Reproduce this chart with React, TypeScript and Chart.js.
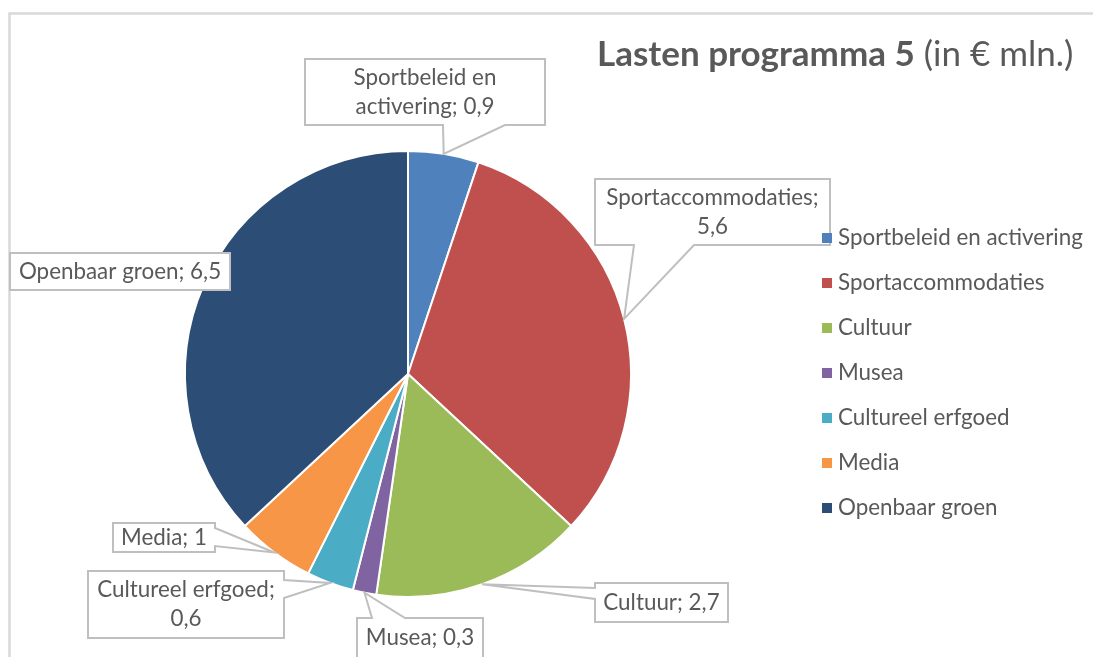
import React, { useEffect, useRef } from 'react';
import { Chart, registerables } from 'chart.js';

Chart.register(...registerables);

const categories = [
  'Sportbeleid en activering',
  'Sportaccommodaties',
  'Cultuur',
  'Musea',
  'Cultureel erfgoed',
  'Media',
  'Openbaar groen',
];
const values = [0.9, 5.6, 2.7, 0.3, 0.6, 1, 6.5];
const colors = ['#4F81BD', '#C0504D', '#9BBB59', '#8064A2', '#4BACC6', '#F79646', '#2C4D75'];
const titleBold = 'Lasten programma 5';
const titleNormal = ' (in € mln.)';

// callout layout (box position, wedge side, wedge base, words on first line)
const callouts = [
  { x: 305, y: 59, w: 240, h: 66, side: 'bottom', b1: 443, b2: 505, split: 2 },
  { x: 595, y: 179, w: 235, h: 66, side: 'bottom', b1: 634, b2: 694, split: 1 },
  { x: 595, y: 583, w: 133, h: 39, side: 'left', b1: 588, b2: 599, split: 0 },
  { x: 357, y: 618, w: 126, h: 40, side: 'top', b1: 372, b2: 405, split: 0 },
  { x: 88, y: 571, w: 196, h: 67, side: 'right', b1: 580, b2: 598, split: 2 },
  { x: 113, y: 523, w: 102, h: 29, side: 'right', b1: 528, b2: 546, split: 0 },
  { x: 10, y: 253, w: 220, h: 37, side: 'none', b1: 0, b2: 0, split: 0 },
];

const FONT = 'Lato, "Open Sans", sans-serif';
const TEXT_COLOR = '#595959';
const LABEL_SIZE = 22.4;
const TITLE_SIZE = 35;

const fmt = (v: number) => String(v).replace('.', ',');

const decorPlugin = {
  id: 'decor',
  beforeDraw(chart: any) {
    const ctx = chart.ctx;
    ctx.save();
    ctx.fillStyle = '#ffffff';
    ctx.fillRect(0, 0, chart.width, chart.height);
    ctx.strokeStyle = '#D9D9D9';
    ctx.lineWidth = 2.5;
    ctx.beginPath();
    ctx.moveTo(9.5, chart.height);
    ctx.lineTo(9.5, 13.5);
    ctx.lineTo(chart.width, 13.5);
    ctx.stroke();
    ctx.restore();
  },
  afterDraw(chart: any) {
    const ctx = chart.ctx;
    const meta = chart.getDatasetMeta(0);
    ctx.save();
    // callouts
    meta.data.forEach((arc: any, i: number) => {
      const c = callouts[i];
      const mid = (arc.startAngle + arc.endAngle) / 2;
      const ax = arc.x + Math.cos(mid) * arc.outerRadius;
      const ay = arc.y + Math.sin(mid) * arc.outerRadius;
      const { x, y, w, h } = c;
      ctx.beginPath();
      if (c.side === 'bottom') {
        ctx.moveTo(x, y);
        ctx.lineTo(x + w, y);
        ctx.lineTo(x + w, y + h);
        ctx.lineTo(c.b2, y + h);
        ctx.lineTo(ax, ay);
        ctx.lineTo(c.b1, y + h);
        ctx.lineTo(x, y + h);
      } else if (c.side === 'top') {
        ctx.moveTo(x, y);
        ctx.lineTo(c.b1, y);
        ctx.lineTo(ax, ay);
        ctx.lineTo(c.b2, y);
        ctx.lineTo(x + w, y);
        ctx.lineTo(x + w, y + h);
        ctx.lineTo(x, y + h);
      } else if (c.side === 'left') {
        ctx.moveTo(x, y);
        ctx.lineTo(x + w, y);
        ctx.lineTo(x + w, y + h);
        ctx.lineTo(x, y + h);
        ctx.lineTo(x, c.b2);
        ctx.lineTo(ax, ay);
        ctx.lineTo(x, c.b1);
      } else if (c.side === 'right') {
        ctx.moveTo(x, y);
        ctx.lineTo(x + w, y);
        ctx.lineTo(x + w, c.b1);
        ctx.lineTo(ax, ay);
        ctx.lineTo(x + w, c.b2);
        ctx.lineTo(x + w, y + h);
        ctx.lineTo(x, y + h);
      } else {
        ctx.rect(x, y, w, h);
      }
      ctx.closePath();
      ctx.fillStyle = '#ffffff';
      ctx.fill();
      ctx.strokeStyle = '#BFBFBF';
      ctx.lineWidth = 2;
      ctx.stroke();

      const text = `${categories[i]}; ${fmt(values[i])}`;
      const words = text.split(' ');
      const lines = c.split > 0 ? [words.slice(0, c.split).join(' '), words.slice(c.split).join(' ')] : [text];
      ctx.fillStyle = TEXT_COLOR;
      ctx.font = `${LABEL_SIZE}px ${FONT}`;
      ctx.textAlign = 'center';
      ctx.textBaseline = 'middle';
      const lh = 29;
      const cy = y + h / 2;
      lines.forEach((ln, k) => {
        ctx.fillText(ln, x + w / 2, cy + (k - (lines.length - 1) / 2) * lh);
      });
    });

    // legend
    ctx.textAlign = 'left';
    ctx.textBaseline = 'middle';
    ctx.font = `${LABEL_SIZE}px ${FONT}`;
    categories.forEach((cat, i) => {
      const cy = 238 + 45 * i;
      ctx.fillStyle = colors[i];
      ctx.fillRect(822, cy - 5, 10, 10);
      ctx.fillStyle = TEXT_COLOR;
      ctx.fillText(cat, 838, cy);
    });

    // title
    ctx.textBaseline = 'alphabetic';
    ctx.fillStyle = TEXT_COLOR;
    ctx.font = `bold ${TITLE_SIZE}px ${FONT}`;
    ctx.fillText(titleBold, 597, 66);
    const bw = ctx.measureText(titleBold).width;
    ctx.font = `${TITLE_SIZE}px ${FONT}`;
    ctx.fillText(titleNormal, 597 + bw, 66);
    ctx.restore();
  },
};

export default function App() {
  const ref = useRef<HTMLCanvasElement | null>(null);
  useEffect(() => {
    if (!ref.current) return;
    const chart = new Chart(ref.current, {
      type: 'pie',
      data: {
        labels: categories,
        datasets: [
          {
            data: values,
            backgroundColor: colors,
            borderColor: '#ffffff',
            borderWidth: 2,
          },
        ],
      },
      options: {
        responsive: false,
        animation: false,
        layout: { padding: { left: 184, right: 461, top: 150, bottom: 59 } },
        plugins: {
          legend: { display: false },
          tooltip: { enabled: false },
          title: { display: false },
        },
      },
      plugins: [decorPlugin],
    });
    return () => chart.destroy();
  }, []);
  return (
    <div style={{ position: 'absolute', left: 0, top: 0, width: 1093, height: 657 }}>
      <canvas ref={ref} width={1093} height={657} style={{ display: 'block' }} />
    </div>
  );
}
